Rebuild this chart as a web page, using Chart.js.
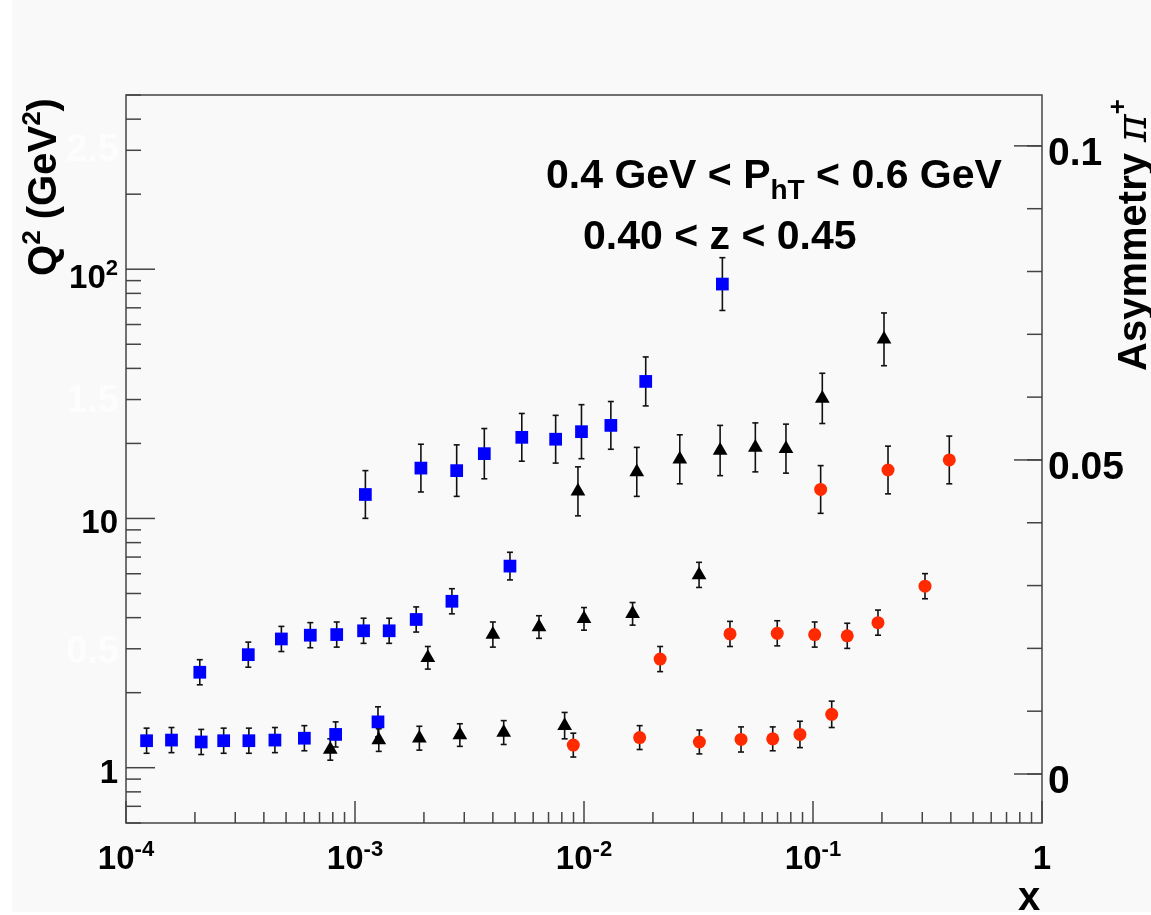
<!DOCTYPE html>
<html>
<head>
<meta charset="utf-8">
<script src="https://cdn.jsdelivr.net/npm/chart.js@4.4.0/dist/chart.umd.min.js"></script>
<style>
  body { margin: 0; background: #fff; }
  canvas { display: block; }
</style>
</head>
<body>
<canvas id="chart" width="1151" height="915"></canvas>
<script>
// blue squares (three Q2 bands)
const blueX = [1.23e-4, 1.58e-4, 2.13e-4, 2.67e-4, 3.44e-4, 4.47e-4, 6.01e-4, 8.23e-4, 1.26e-3,
  2.10e-4, 3.42e-4, 4.77e-4, 6.38e-4, 8.32e-4, 1.09e-3, 1.41e-3, 1.85e-3, 2.65e-3, 4.75e-3,
  1.11e-3, 1.94e-3, 2.78e-3, 3.67e-3, 5.35e-3, 7.52e-3, 9.75e-3, 1.31e-2, 1.86e-2, 4.02e-2];
const blueA = [0.0053, 0.0054, 0.0051, 0.0053, 0.0053, 0.0054, 0.0057, 0.0063, 0.0083,
  0.0162, 0.0190, 0.0215, 0.0221, 0.0222, 0.0228, 0.0228, 0.0246, 0.0275, 0.0331,
  0.0445, 0.0487, 0.0483, 0.0510, 0.0536, 0.0533, 0.0545, 0.0555, 0.0625, 0.0780];
const blueErr = [0.0020, 0.0020, 0.0020, 0.0020, 0.0020, 0.0020, 0.0020, 0.0020, 0.0024,
  0.0020, 0.0020, 0.0020, 0.0020, 0.0020, 0.0020, 0.0020, 0.0020, 0.0020, 0.0022,
  0.0038, 0.0038, 0.0041, 0.0040, 0.0038, 0.0038, 0.0043, 0.0038, 0.0039, 0.0042];

// black triangles
const blackX = [7.80e-4, 1.27e-3, 1.91e-3, 2.87e-3, 4.46e-3, 8.23e-3,
  2.08e-3, 4.00e-3, 6.36e-3, 1.00e-2, 1.63e-2, 3.18e-2,
  9.41e-3, 1.70e-2, 2.62e-2, 3.93e-2, 5.60e-2, 7.62e-2, 0.1098, 0.2042];
const blackA = [0.0039, 0.0054, 0.0057, 0.0062, 0.0066, 0.0077,
  0.0185, 0.0222, 0.0234, 0.0247, 0.0255, 0.0317,
  0.0450, 0.0481, 0.0501, 0.0515, 0.0520, 0.0518, 0.0598, 0.0692];
const blackErr = [0.0017, 0.0018, 0.0019, 0.0018, 0.0019, 0.0021,
  0.0018, 0.0020, 0.0018, 0.0018, 0.0018, 0.0020,
  0.0039, 0.0039, 0.0039, 0.0040, 0.0039, 0.0039, 0.0040, 0.0042];

// red circles
const redX = [8.98e-3, 1.75e-2, 3.19e-2, 4.85e-2, 6.67e-2, 8.77e-2, 0.1207,
  2.15e-2, 4.34e-2, 6.98e-2, 0.1017, 0.1411, 0.1922, 0.3084,
  0.1080, 0.2126, 0.3937];
const redA = [0.0046, 0.0058, 0.0051, 0.0055, 0.0056, 0.0063, 0.0095,
  0.0183, 0.0223, 0.0224, 0.0222, 0.0220, 0.0241, 0.0299,
  0.0453, 0.0484, 0.0500];
const redErr = [0.0019, 0.0019, 0.0019, 0.0020, 0.0019, 0.0021, 0.0021,
  0.0020, 0.0020, 0.0020, 0.0020, 0.0020, 0.0020, 0.0020,
  0.0038, 0.0038, 0.0038];

// axis ticks and labels
const xMajor = [1e-4, 1e-3, 1e-2, 1e-1, 1];
const xLabels = [['10', '-4'], ['10', '-3'], ['10', '-2'], ['10', '-1'], ['1', '']];
const qMajor = [1, 10, 100];
const qLabels = [['1', ''], ['10', ''], ['10', '2']];
const asymMajor = [0, 0.05, 0.1];
const asymLabels = ['0', '0.05', '0.1'];
const ghostValues = [0.5, 1.5, 2.5];
const ghostLabels = ['0.5', '1.5', '2.5'];

const FONT = '"Liberation Sans", Arial, Helvetica, sans-serif';

function points(xs, ys, es) {
  return xs.map((x, i) => ({ x: x, y: ys[i], err: es[i] }));
}

function drawRich(ctx, parts, x, y) {
  let cx = x;
  parts.forEach(p => {
    ctx.font = p.font;
    ctx.fillText(p.text, cx, y + (p.dy || 0));
    cx += ctx.measureText(p.text).width;
  });
  return cx - x;
}

function richWidth(ctx, parts) {
  let w = 0;
  parts.forEach(p => { ctx.font = p.font; w += ctx.measureText(p.text).width; });
  return w;
}

function line(ctx, x1, y1, x2, y2) {
  ctx.beginPath();
  ctx.moveTo(x1, y1);
  ctx.lineTo(x2, y2);
  ctx.stroke();
}

const rootStyle = {
  id: 'rootStyle',
  beforeDraw(chart) {
    const ctx = chart.ctx;
    ctx.save();
    ctx.fillStyle = '#ffffff';
    ctx.fillRect(0, 0, chart.width, chart.height);
    ctx.fillStyle = '#f9f9f9';
    ctx.fillRect(12, 0, chart.width - 12, 912);
    ctx.restore();
  },
  beforeDatasetsDraw(chart) {
    // error bars
    const ctx = chart.ctx;
    ctx.save();
    ctx.strokeStyle = '#111';
    ctx.lineWidth = 1.6;
    chart.data.datasets.forEach((ds, i) => {
      const meta = chart.getDatasetMeta(i);
      const ys = meta.yScale;
      meta.data.forEach((pt, j) => {
        const d = ds.data[j];
        const y1 = ys.getPixelForValue(d.y + d.err);
        const y2 = ys.getPixelForValue(d.y - d.err);
        line(ctx, pt.x, y1, pt.x, y2);
        line(ctx, pt.x - 3, y1, pt.x + 3, y1);
        line(ctx, pt.x - 3, y2, pt.x + 3, y2);
      });
    });
    ctx.restore();
  },
  afterDraw(chart) {
    const ctx = chart.ctx;
    const a = chart.chartArea;
    const xs = chart.scales.x, ya = chart.scales.y, yq = chart.scales.yq, yg = chart.scales.yg;
    ctx.save();
    ctx.strokeStyle = '#444';
    ctx.lineWidth = 1.5;
    ctx.strokeRect(a.left, a.top, a.right - a.left, a.bottom - a.top);

    // x ticks
    for (let e = -4; e < 0; e++) {
      for (let m = 2; m <= 9; m++) {
        const px = xs.getPixelForValue(m * Math.pow(10, e));
        line(ctx, px, a.bottom, px, a.bottom - 11);
      }
    }
    xMajor.forEach(v => {
      const px = xs.getPixelForValue(v);
      line(ctx, px, a.bottom, px, a.bottom - 22);
    });

    // left log ticks
    for (let e = -1; e <= 2; e++) {
      for (let m = 2; m <= 9; m++) {
        const v = m * Math.pow(10, e);
        if (v < yq.min || v > yq.max) continue;
        const py = yq.getPixelForValue(v);
        line(ctx, a.left, py, a.left + 15, py);
      }
    }
    qMajor.forEach(v => {
      const py = yq.getPixelForValue(v);
      line(ctx, a.left, py, a.left + 29, py);
    });

    // right asymmetry ticks
    for (let k = 0; k <= 10; k++) {
      const py = ya.getPixelForValue(k / 100);
      line(ctx, a.right, py, a.right - 15, py);
    }
    asymMajor.forEach(v => {
      const py = ya.getPixelForValue(v);
      line(ctx, a.right, py, a.right - 28, py);
    });

    ctx.fillStyle = '#000';
    ctx.textBaseline = 'alphabetic';
    ctx.textAlign = 'left';
    const big = 'bold 33px ' + FONT;
    const sup = 'bold 22px ' + FONT;

    // x labels
    xMajor.forEach((v, i) => {
      const parts = [{ text: xLabels[i][0], font: big }, { text: xLabels[i][1], font: sup, dy: -13 }];
      const w = richWidth(ctx, parts);
      drawRich(ctx, parts, xs.getPixelForValue(v) - w / 2, a.bottom + 46);
    });

    // left labels
    qMajor.forEach((v, i) => {
      const hasSup = qLabels[i][1] !== '';
      const parts = [{ text: qLabels[i][0], font: big }, { text: qLabels[i][1], font: sup, dy: -13 }];
      const w = richWidth(ctx, parts);
      drawRich(ctx, parts, 118 - w, yq.getPixelForValue(v) + (hasSup ? 19 : 15));
    });

    // faint overlaid labels
    ctx.fillStyle = '#fdfdfd';
    ctx.font = 'bold 38px ' + FONT;
    ctx.textAlign = 'right';
    ctx.textBaseline = 'middle';
    ghostValues.forEach((v, i) => ctx.fillText(ghostLabels[i], 119, yg.getPixelForValue(v)));

    // right labels
    ctx.fillStyle = '#000';
    ctx.textAlign = 'left';
    ctx.textBaseline = 'alphabetic';
    ctx.font = 'bold 39px ' + FONT;
    asymMajor.forEach((v, i) => ctx.fillText(asymLabels[i], a.right + 6, ya.getPixelForValue(v) + 19));

    // axis titles
    ctx.font = 'bold 40px ' + FONT;
    ctx.fillText('x', 1018, 910);

    const tFont = 'bold 40px ' + FONT;
    const tSup = 'bold 26px ' + FONT;
    const qTitle = [
      { text: 'Q', font: tFont }, { text: '2', font: tSup, dy: -16 },
      { text: ' (GeV', font: tFont }, { text: '2', font: tSup, dy: -16 }, { text: ')', font: tFont }
    ];
    ctx.save();
    ctx.translate(56, 187);
    ctx.rotate(-Math.PI / 2);
    drawRich(ctx, qTitle, -richWidth(ctx, qTitle) / 2, 0);
    ctx.restore();

    const aTitle = [
      { text: 'Asymmetry ', font: 'bold 40px ' + FONT },
      { text: 'π', font: 'italic 42px "DejaVu Serif", "Liberation Serif", serif' },
      { text: '+', font: tSup, dy: -20 }
    ];
    ctx.save();
    ctx.translate(1146, 235);
    ctx.rotate(-Math.PI / 2);
    drawRich(ctx, aTitle, -richWidth(ctx, aTitle) / 2, 0);
    ctx.restore();

    // bin text
    const txt = 'bold 41px ' + FONT;
    drawRich(ctx, [
      { text: '0.4 GeV < P', font: txt },
      { text: 'hT', font: 'bold 28px ' + FONT, dy: 11 },
      { text: ' < 0.6 GeV', font: txt }
    ], 546, 188);
    drawRich(ctx, [{ text: '0.40 < z < 0.45', font: txt }], 583, 249);
    ctx.restore();
  }
};

const chart = document.querySelector('#chart').getContext('2d');

new Chart(chart, {
  type: 'scatter',
  data: {
    datasets: [
      {
        label: 'blue',
        data: points(blueX, blueA, blueErr),
        pointStyle: 'rect',
        pointRadius: 9,
        backgroundColor: '#0000ff',
        borderColor: '#0000ff',
        borderWidth: 0
      },
      {
        label: 'black',
        data: points(blackX, blackA, blackErr),
        pointStyle: 'triangle',
        pointRadius: 8.5,
        backgroundColor: '#000000',
        borderColor: '#000000',
        borderWidth: 0
      },
      {
        label: 'red',
        data: points(redX, redA, redErr),
        pointStyle: 'circle',
        pointRadius: 6.5,
        backgroundColor: '#ff2a00',
        borderColor: '#ff2a00',
        borderWidth: 0
      }
    ]
  },
  options: {
    responsive: false,
    animation: false,
    devicePixelRatio: 1,
    layout: { padding: { left: 126, top: 95, right: 109, bottom: 92 } },
    plugins: { legend: { display: false }, tooltip: { enabled: false } },
    scales: {
      x: { type: 'logarithmic', min: 1e-4, max: 1, display: false },
      y: { type: 'linear', min: -0.0078, max: 0.1081, display: false },
      yq: { type: 'logarithmic', min: 0.637, max: 500, display: false },
      yg: { type: 'linear', min: -0.177, max: 2.721, display: false }
    }
  },
  plugins: [rootStyle]
});
</script>
</body>
</html>
